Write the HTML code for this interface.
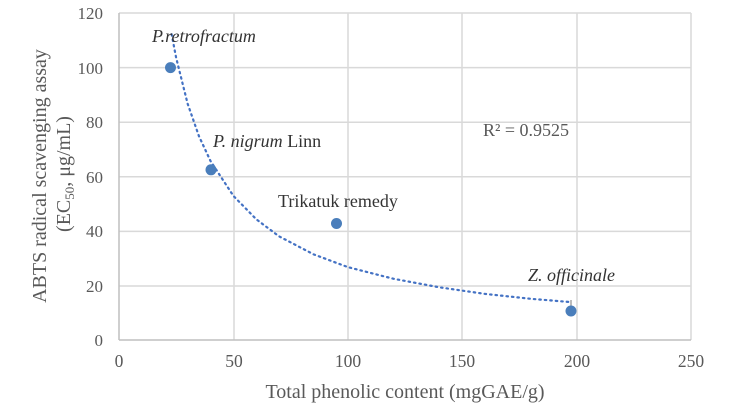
<!DOCTYPE html>
<html><head><meta charset="utf-8"><style>
body{margin:0;background:#fff;}
svg text{font-family:"Liberation Serif",serif;fill:#595959;}
</style></head><body>
<svg width="732" height="415" viewBox="0 0 732 415">
<g stroke="#d9d9d9" stroke-width="1.5">
<line x1="119" y1="13" x2="691" y2="13"/>
<line x1="119" y1="67.6" x2="691" y2="67.6"/>
<line x1="119" y1="122.2" x2="691" y2="122.2"/>
<line x1="119" y1="176.8" x2="691" y2="176.8"/>
<line x1="119" y1="231.4" x2="691" y2="231.4"/>
<line x1="119" y1="286" x2="691" y2="286"/>
<line x1="234" y1="13" x2="234" y2="340"/>
<line x1="348" y1="13" x2="348" y2="340"/>
<line x1="462" y1="13" x2="462" y2="340"/>
<line x1="577" y1="13" x2="577" y2="340"/>
<line x1="691" y1="13" x2="691" y2="340"/>
</g>
<g stroke="#bfbfbf" stroke-width="1.5">
<line x1="119" y1="13" x2="119" y2="340"/>
<line x1="119" y1="340" x2="691" y2="340"/>
</g>
<g font-size="17" text-anchor="end">
<text x="103" y="346">0</text>
<text x="103" y="292">20</text>
<text x="103" y="237">40</text>
<text x="103" y="183">60</text>
<text x="103" y="128">80</text>
<text x="103" y="74">100</text>
<text x="103" y="19">120</text>
</g>
<g font-size="17.5" text-anchor="middle">
<text x="119" y="367">0</text>
<text x="234" y="367">50</text>
<text x="348" y="367">100</text>
<text x="462" y="367">150</text>
<text x="577" y="367">200</text>
<text x="691" y="367">250</text>
</g>
<text x="405" y="398" font-size="20" text-anchor="middle">Total phenolic content (mgGAE/g)</text>
<text transform="translate(46,176) rotate(-90)" font-size="20" text-anchor="middle">ABTS radical scavenging assay</text>
<text transform="translate(70,174) rotate(-90)" font-size="20" text-anchor="middle">(EC<tspan font-size="13" dy="4">50</tspan><tspan dy="-4">, μg/mL)</tspan></text>
<polyline fill="none" stroke="#4472c4" stroke-width="2.2" stroke-dasharray="1.5 4" stroke-linecap="round" points="171.6,34.2 176.2,58 187.6,103.6 199,136.3 210.5,161 233.4,195.9 256.3,219.3 279,236.3 313.5,254.3 347.8,267.1 393.6,278.8 439.3,287.3 485,293.9 530.8,298.8 569.7,302"/>
<line x1="571" y1="300" x2="571" y2="311" stroke="#a6a6a6" stroke-width="1.5"/>
<g fill="#4a7ebb">
<circle cx="170.5" cy="67.6" r="5.5"/>
<circle cx="211" cy="169.8" r="5.5"/>
<circle cx="336.5" cy="223.5" r="5.5"/>
<circle cx="571" cy="311" r="5.5"/>
</g>
<g font-size="18">
<text x="152" y="42" font-style="italic" style="fill:#333">P.retrofractum</text>
<text x="213" y="147" style="fill:#333"><tspan font-style="italic">P. nigrum</tspan> Linn</text>
<text x="278" y="207" style="fill:#333">Trikatuk remedy</text>
<text x="528" y="281" font-style="italic" style="fill:#333">Z. officinale</text>
</g>
<text x="483" y="136" font-size="18">R² = 0.9525</text>
</svg>
</body></html>
